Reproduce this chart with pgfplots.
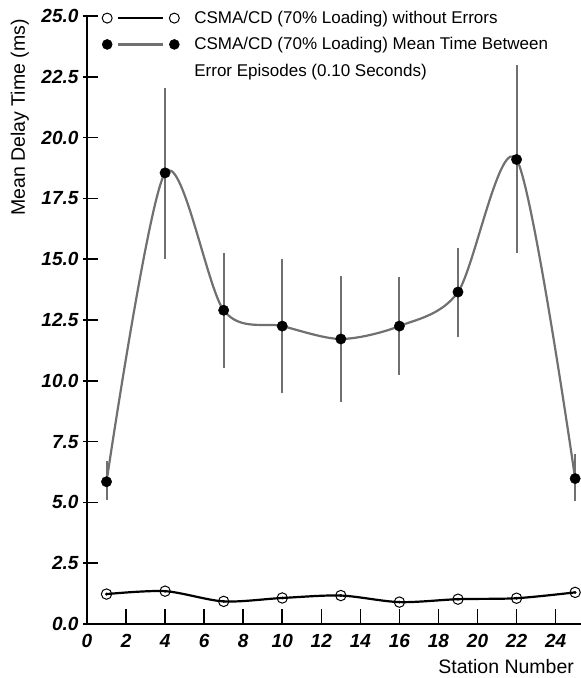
\documentclass[border=0pt]{standalone}
\usepackage{fontspec}
\setmainfont{Liberation Sans}
\usepackage{pgfplots}
\pgfplotsset{compat=1.18}
\usepackage{pgfplotstable}
\definecolor{errgray}{HTML}{707070}

\pgfplotstableread{
x y ep em
1 5.85 0.87 0.77
4 18.55 3.50 3.55
7 12.90 2.35 2.37
10 12.25 2.75 2.75
13 11.72 2.58 2.58
16 12.25 2.01 2.00
19 13.65 1.80 1.85
22 19.10 3.90 3.85
25 5.98 1.02 0.94
}\errdata

\pgfplotstableread{
x y
1 1.23
4 1.35
7 0.93
10 1.07
13 1.17
16 0.90
19 1.02
22 1.06
25 1.30
}\noerrdata

\begin{document}
\begin{tikzpicture}
\useasboundingbox (-87pt,-54pt) rectangle (494pt,624pt);
\begin{axis}[
  scale only axis, width=494pt, height=608pt,
  xmin=0, xmax=25.3, ymin=0, ymax=25,
  clip=false,
  axis x line*=bottom, axis y line*=left,
  axis line style={black, line width=2pt, -},
  xtick={0,2,...,24}, ytick={0,2.5,...,25},
  tick align=inside,
  major tick length=15pt,
  tick style={black, line width=1.6pt},
  ytick style={xshift=-4pt},
  /pgf/number format/assume math mode=true,
  ticklabel style={font=\bfseries\itshape\fontsize{19}{19}\selectfont},
  yticklabel style={xshift=-5pt, /pgf/number format/.cd, fixed, fixed zerofill, precision=1},
  xticklabel style={yshift=-7pt},
  xlabel={Station Number},
  ylabel={Mean Delay Time (ms)},
  label style={font=\fontsize{19.5}{19.5}\selectfont},
  xlabel style={at={(axis description cs:0.986,-0.070)}, anchor=east, inner sep=0pt},
  ylabel style={at={(axis description cs:-0.136,0.833)}, anchor=center},
  legend style={draw=none, fill=none, at={(axis description cs:0,1)}, anchor=north west,
    xshift=12pt, yshift=9pt,
    font=\fontsize{17}{17}\selectfont, row sep=8.5pt, column sep=13pt},
  legend cell align=left,
  legend image code/.code={%
    \draw[#1,mark=none] (0.39cm,0cm) -- (1.97cm,0cm);
    \draw[#1] plot[only marks] coordinates {(0cm,0cm) (2.36cm,0cm)};},
]
\addlegendimage{black, line width=2pt, mark=o, mark size=5pt, mark options={fill=white, line width=1pt, black}}
\addlegendentry{CSMA/CD (70\% Loading) without Errors}
\addlegendimage{errgray, line width=2.2pt, mark=*, mark size=5pt, mark options={fill=black, draw=black, line width=0.5pt}}
\addlegendentry{CSMA/CD (70\% Loading) Mean Time Between}
\addlegendimage{empty legend}
\addlegendentry{Error Episodes (0.10 Seconds)}

% series with errors
\addplot[errgray, line width=2.2pt, smooth, tension=0.5, mark=none, forget plot,
  error bars/.cd, y dir=both, y explicit, error mark=none,
  error bar style={errgray, line width=2pt}]
  table[x=x, y=y, y error plus=ep, y error minus=em] {\errdata};
\addplot[only marks, mark=*, mark size=5.2pt, mark options={fill=black, draw=black}, forget plot]
  table[x=x, y=y] {\errdata};

% series without errors
\addplot[black, line width=2.2pt, smooth, tension=0.5, mark=o, mark size=5.2pt,
  mark options={fill=white, line width=1pt, black}, forget plot]
  table[x=x, y=y] {\noerrdata};
\addplot[only marks, mark=*, mark size=1.2pt, mark options={fill=black, draw=black}, forget plot]
  table[x=x, y=y] {\noerrdata};
\end{axis}
\end{tikzpicture}
\end{document}
